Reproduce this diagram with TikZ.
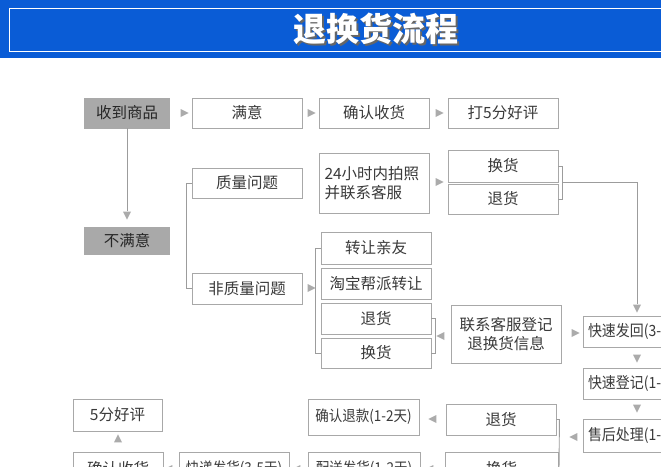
\documentclass[tikz,border=0pt]{standalone}
\usepackage{fontspec}
\setmainfont{Noto Sans CJK SC}
\newfontfamily\condfont{Noto Sans CJK SC}[FakeStretch=0.9]
\usetikzlibrary{shapes.geometric}
\definecolor{hdrblue}{HTML}{0A5CD6}
\definecolor{bordc}{HTML}{A8A8A8}
\definecolor{txtc}{HTML}{3A3A3A}
\definecolor{grayfill}{HTML}{A9A9A9}
\definecolor{arrc}{HTML}{ABABAB}
\definecolor{linec}{HTML}{9C9C9C}
\begin{document}
\begin{tikzpicture}[x=1pt,y=-1pt,
  box/.style={draw=bordc, line width=0.9pt, fill=white, text=txtc, inner sep=0pt,
    font=\fontsize{15.5}{19}\selectfont, align=center, minimum width=110pt, minimum height=30pt},
  gbox/.style={box, fill=grayfill, draw=grayfill, text=black!85, minimum width=85pt},
  rbox/.style={box, align=left, text width=107pt, inner xsep=5pt, minimum width=0pt,
    font=\fontsize{15.5}{19}\condfont},
  nbox/.style={box, font=\fontsize{15}{19}\condfont},
  tri/.style={isosceles triangle, isosceles triangle stretches, fill=arrc, draw=none,
    inner sep=0pt, minimum width=8pt, minimum height=8pt},
  tright/.style={tri, shape border rotate=0},
  tleft/.style={tri, shape border rotate=180},
  tup/.style={tri, shape border rotate=90},
  tdown/.style={tri, shape border rotate=270},
  conn/.style={draw=linec, line width=0.9pt}]
\useasboundingbox (0,0) rectangle (661,466);
\clip (0,0) rectangle (661,466);
\fill[white] (0,0) rectangle (661,466);
% header
\fill[hdrblue] (0,0) rectangle (661,58);
\draw[white, line width=1pt] (9,8) rectangle (680,51);
\node[text=black!60, font=\fontsize{33}{36}\selectfont\bfseries] (titleshadow) at (377.5,30.5) {退换货流程};
\node[text=white, font=\fontsize{33}{36}\selectfont\bfseries] (title) at (376,29) {退换货流程};
% row 1
\node[gbox] (recv) at (127,113) {收到商品};
\node[box] (sat) at (247,113) {满意};
\node[box] (conf) at (374,113) {确认收货};
\node[box] (five) at (503,113) {打5分好评};
\node[tright] (a1) at (183,113) {};
\node[tright] (a2) at (310,113) {};
\node[tright] (a3) at (438,113) {};
% unsatisfied
\node[gbox, minimum height=27pt] (unsat) at (127,240.5) {不满意};
\node[tdown] (d1) at (127,214) {};
\draw[conn] (recv.south) -- (d1.north);
% quality
\node[box] (qual) at (247,183) {质量问题};
\node[box, minimum height=60pt, align=left, text width=99pt, inner xsep=5.5pt, minimum width=0pt] (photo) at (374,183) {24小时内拍照\\并联系客服};
\node[tright] (a4) at (438,182) {};
\node[box, minimum height=32pt] (huan1) at (503,166) {换货};
\node[box] (tui1) at (503,199) {退货};
\node[box, minimum height=31pt] (nonq) at (247,288.5) {非质量问题};
\draw[conn] (qual.west) -- ++(-5,0) |- (nonq.west);
\node[tright] (a5) at (310,288) {};
\draw[conn] (huan1.east) -- ++(4,0) |- (tui1.east);
\coordinate (b3) at (562,182);
\node[tdown] (d2) at (637,307) {};
\draw[conn] (b3) -| (d2.north);
% non-quality options
\node[box, minimum height=32pt] (zr) at (376,248) {转让亲友};
\node[box, minimum height=31pt] (tb) at (376,283.5) {淘宝帮派转让};
\node[box, minimum height=31pt] (tui2) at (376,318.5) {退货};
\node[box] (huan2) at (376,353) {换货};
\draw[conn] (zr.west) -- ++(-5,0) |- (huan2.west);
\draw[conn] (tui2.east) -- ++(4,0) |- (huan2.east);
\node[tleft] (a6) at (442,336) {};
\node[box, minimum height=58pt] (contact) at (506,334) {联系客服登记\\退换货信息};
\node[tright] (a7) at (574,333) {};
% right column
\node[rbox, minimum height=31pt] (kf) at (641.5,331.5) {快速发回(3-5天)};
\node[tdown] (d3) at (637,357) {};
\node[rbox, minimum height=31pt] (kd) at (641.5,383.5) {快速登记(1-2天)};
\node[tdown] (d4) at (637,407) {};
\node[rbox, minimum height=33pt] (sh) at (641.5,435.5) {售后处理(1-2天)};
\node[tleft] (a8) at (575,437) {};
% lower part
\node[box, minimum height=31pt] (tui3) at (501,419.5) {退货};
\node[tleft] (a9) at (434,419) {};
\node[nbox, minimum width=111pt, minimum height=36pt] (qrtk) at (363.5,417) {确认退款(1-2天)};
\node[box, minimum width=89pt, minimum height=32pt] (five2) at (117.5,415) {5分好评};
\node[tup] (u1) at (118,440) {};
\node[box, minimum width=113pt, minimum height=34pt] (huan3) at (501.5,469) {换货};
\draw[conn] (tui3.east) -- ++(3,0) -- (559,470);
\node[tleft] (a10) at (431,469) {};
\node[nbox, minimum width=112pt, minimum height=34pt] (peis) at (364,469) {配送发货(1-2天)};
\node[tleft] (a11) at (298,469) {};
\node[nbox, minimum width=110pt, minimum height=34pt] (kdfh) at (234,469) {快递发货(3-5天)};
\node[tleft] (a12) at (170,469) {};
\node[box, minimum width=90pt, minimum height=34pt] (qrsh) at (118,469) {确认收货};
\end{tikzpicture}
\end{document}
